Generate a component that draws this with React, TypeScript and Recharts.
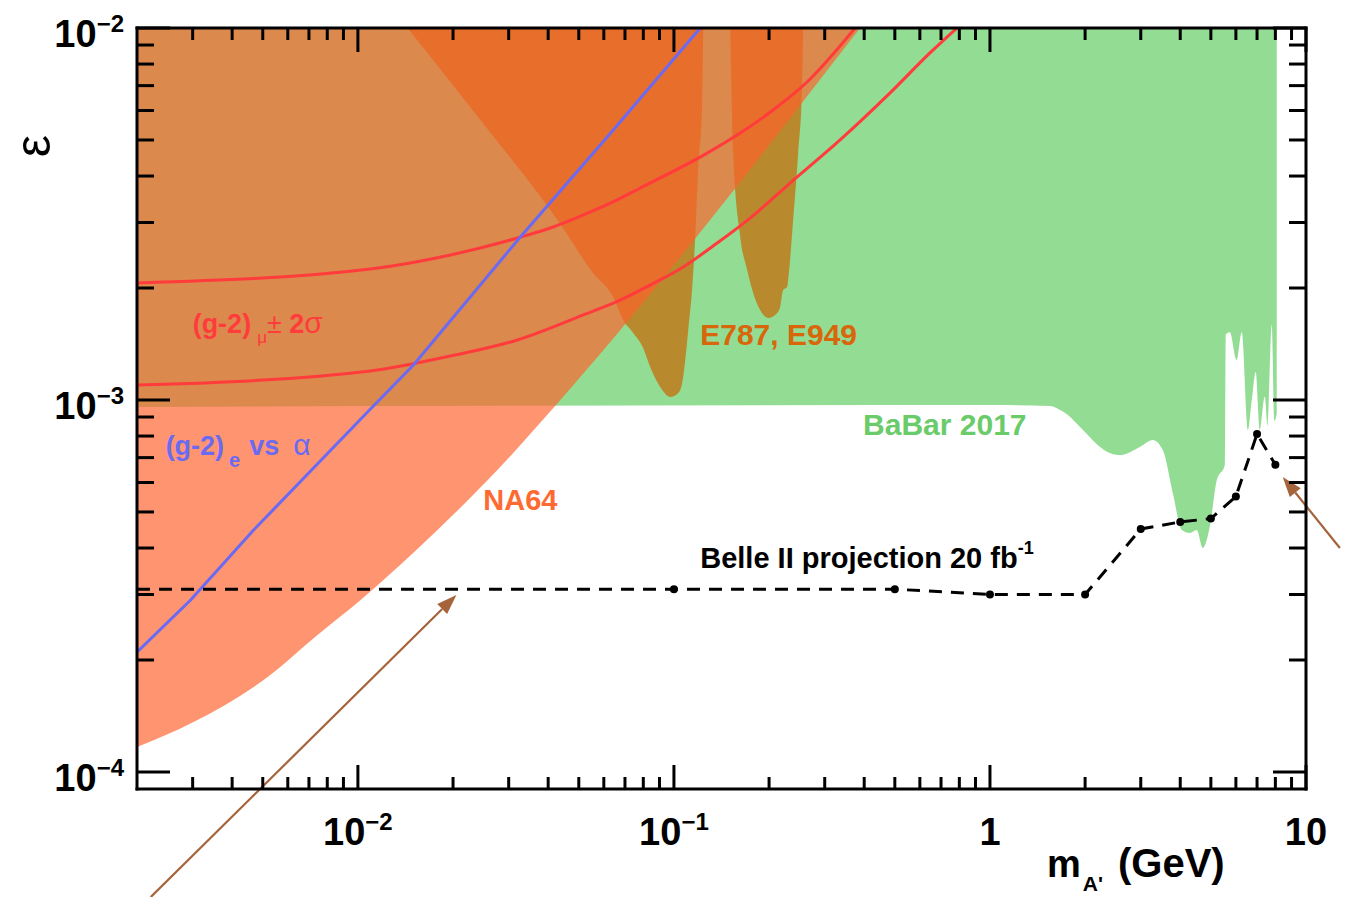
import React from "react";
import {
  ComposedChart,
  XAxis,
  YAxis,
  Area,
  Line,
  ReferenceLine,
  ReferenceDot,
} from "recharts";

const FONT = '"Liberation Sans", Arial, Helvetica, sans-serif';
const X_MIN = 0.002;
const X_MAX = 10;
const Y_MIN = 9e-5;
const Y_MAX = 1e-2;

// BaBar 2017: lower edge of the excluded region (excluded up to the top of the frame)
const babarMass = [0.002, 1.075, 1.548, 1.65, 1.752, 1.88, 2.026, 2.2, 2.395, 2.576, 2.98, 3.276, 3.523, 3.79, 4.046, 4.288, 4.511, 4.714, 4.961, 5.221, 5.533, 5.573, 5.739, 6.038, 6.262, 6.542, 6.735, 6.934, 7.139, 7.404, 7.567, 7.791, 7.962, 8.08];
const babarEps = [9.58e-4, 9.69e-4, 9.63e-4, 9.45e-4, 9.15e-4, 8.65e-4, 8.1e-4, 7.55e-4, 7.2e-4, 7.11e-4, 7.48e-4, 7.81e-4, 7.34e-4, 5.62e-4, 4.47e-4, 4.39e-4, 4.47e-4, 4.0e-4, 4.56e-4, 6.09e-4, 6.69e-4, 1.5e-3, 1.52e-3, 1.28e-3, 1.52e-3, 8.3e-4, 1.0e-3, 1.19e-3, 8.3e-4, 1.02e-3, 8.5e-4, 1.59e-3, 8.8e-4, 9.2e-4];

// E787, E949: two K -> pi A' lobes
const e787Mass = [0.01435, 0.02441, 0.04276, 0.05556, 0.06428, 0.06914, 0.07434, 0.07994, 0.08414, 0.09183, 0.09734, 0.1032, 0.1062, 0.1086, 0.111, 0.1143, 0.1168, 0.1193, 0.1229, 0.1238];
const e787Eps = [1e-2, 5.66e-3, 3.05e-3, 2.19e-3, 1.89e-3, 1.64e-3, 1.514e-3, 1.38e-3, 1.226e-3, 1.064e-3, 1.019e-3, 1.044e-3, 1.111e-3, 1.281e-3, 1.542e-3, 2.012e-3, 2.743e-3, 4.15e-3, 6.29e-3, 1e-2];
const e949Mass = [0.1507, 0.154, 0.1621, 0.1705, 0.1781, 0.1874, 0.1987, 0.2121, 0.2168, 0.2216, 0.2282, 0.2298, 0.2384, 0.2472, 0.2544, 0.2563];
const e949Eps = [1e-2, 4.61e-3, 2.743e-3, 2.236e-3, 1.94e-3, 1.745e-3, 1.661e-3, 1.713e-3, 1.778e-3, 1.975e-3, 2.012e-3, 2.102e-3, 3.05e-3, 4.61e-3, 6.94e-3, 1e-2];

// NA64 lower edge
const na64Mass = [0.002, 0.00302, 0.00518, 0.00745, 0.0102, 0.01785, 0.02762, 0.04153, 0.388];
const na64Eps = [1.168e-4, 1.363e-4, 1.8e-4, 2.335e-4, 2.9e-4, 4.47e-4, 6.48e-4, 9.52e-4, 1e-2];

// (g-2)_e vs alpha
const gm2eMass = [0.002, 0.002956, 0.004677, 0.01096, 0.01499, 0.03266, 0.06428, 0.1211];
const gm2eEps = [2.1e-4, 2.9e-4, 4.47e-4, 9.46e-4, 1.242e-3, 2.743e-3, 5.32e-3, 1e-2];

// (g-2)_mu +- 2 sigma band edges
const gm2muHiMass = [0.002, 0.01096, 0.01963, 0.03196, 0.04063, 0.05167, 0.06618, 0.07823, 0.1274, 0.1621, 0.206, 0.2638, 0.3743];
const gm2muHiEps = [2.063e-3, 2.25e-3, 2.454e-3, 2.726e-3, 2.9e-3, 3.144e-3, 3.45e-3, 3.714e-3, 4.61e-3, 5.22e-3, 6.02e-3, 7.16e-3, 1e-2];
const gm2muLoMass = [0.002, 0.01096, 0.01963, 0.03196, 0.05167, 0.06618, 0.08414, 0.107, 0.137, 0.1742, 0.2331, 0.3356, 0.483, 0.6459, 0.7863];
const gm2muLoEps = [1.097e-3, 1.197e-3, 1.313e-3, 1.45e-3, 1.693e-3, 1.84e-3, 2.037e-3, 2.278e-3, 2.642e-3, 3.084e-3, 3.83e-3, 5.0e-3, 6.69e-3, 8.57e-3, 1e-2];

// Belle II projection, 20 fb^-1
const belleMass = [0.002, 0.1, 0.5, 1, 2, 3, 4, 5, 6, 7, 8];
const belleEps = [3.1e-4, 3.1e-4, 3.1e-4, 3.0e-4, 3.0e-4, 4.5e-4, 4.7e-4, 4.8e-4, 5.5e-4, 8.1e-4, 6.7e-4];

// axis ticks
const mantissas = [1, 2, 3, 4, 5, 6, 7, 8, 9];
const xDecades = [-3, -2, -1, 0, 1];
const yDecades = [-5, -4, -3, -2];

const makeTicks = (decades: number[], lo: number, hi: number) =>
  decades
    .flatMap((d) => mantissas.map((m) => Number((m * Math.pow(10, d)).toPrecision(3))))
    .filter((v) => v > lo * 1.0001 && v <= hi * 1.0001);

const xTicks = makeTicks(xDecades, X_MIN, X_MAX);
const yTicks = makeTicks(yDecades, Y_MIN, Y_MAX);

const lineRows = (mass: number[], eps: number[]) => mass.map((m, i) => ({ m, eps: eps[i] }));
const bandRows = (mass: number[], eps: number[]) =>
  mass.map((m, i) => ({ m, band: [eps[i], Y_MAX] }));

const isMajor = (v: number) => Math.abs(Math.log10(v) - Math.round(Math.log10(v))) < 1e-6;

const PowerLabel = ({ v, x, y, anchor }: { v: number; x: number; y: number; anchor: "middle" | "end" }) => {
  const e = Math.round(Math.log10(v));
  const common = { x, y, textAnchor: anchor, fontFamily: FONT, fontWeight: 700, fontSize: 38, fill: "#000" };
  if (e === 0) return <text {...common}>1</text>;
  if (e === 1) return <text {...common}>10</text>;
  return (
    <text {...common}>
      10
      <tspan dy={-15} fontSize={24}>
        {"\u2212" + Math.abs(e)}
      </tspan>
    </text>
  );
};

const BottomTick = (p: any) => {
  const v = p.payload.value;
  const major = isMajor(v);
  return (
    <g>
      <line x1={p.x} x2={p.x} y1={p.y} y2={p.y - (major ? 24 : 12)} stroke="#000" strokeWidth={3} />
      {major && <PowerLabel v={v} x={p.x} y={p.y + 56} anchor="middle" />}
    </g>
  );
};

const TopTick = (p: any) => {
  const major = isMajor(p.payload.value);
  return <line x1={p.x} x2={p.x} y1={p.y} y2={p.y + (major ? 24 : 12)} stroke="#000" strokeWidth={3} />;
};

const LeftTick = (p: any) => {
  const v = p.payload.value;
  const major = isMajor(v);
  return (
    <g>
      <line x1={p.x} x2={p.x + (major ? 33 : 17)} y1={p.y} y2={p.y} stroke="#000" strokeWidth={3} />
      {major && <PowerLabel v={v} x={p.x - 13} y={p.y + 19} anchor="end" />}
    </g>
  );
};

const RightTick = (p: any) => {
  const major = isMajor(p.payload.value);
  return <line x1={p.x} x2={p.x - (major ? 33 : 17)} y1={p.y} y2={p.y} stroke="#000" strokeWidth={3} />;
};

const Arrow = (p: any) => {
  const { x1, y1, x2, y2 } = p;
  const a = Math.atan2(y2 - y1, x2 - x1);
  const len = 20;
  const half = 7;
  const bx = x2 - len * Math.cos(a);
  const by = y2 - len * Math.sin(a);
  const pts = `${x2},${y2} ${bx + half * Math.sin(a)},${by - half * Math.cos(a)} ${bx - half * Math.sin(a)},${by + half * Math.cos(a)}`;
  return (
    <g>
      <line x1={x1} y1={y1} x2={bx} y2={by} stroke="#A5643C" strokeWidth={2.2} />
      <polygon points={pts} fill="#A5643C" />
    </g>
  );
};

const BelleDot = (p: any) =>
  p.index === 0 ? (
    <g key={`bd${p.index}`} />
  ) : (
    <circle key={`bd${p.index}`} cx={p.cx} cy={p.cy} r={4} fill="#000" />
  );

const textAt = (content: React.ReactNode, color: string, size: number) => (p: any) => (
  <text x={p.cx} y={p.cy} fill={color} fontFamily={FONT} fontWeight={700} fontSize={size}>
    {content}
  </text>
);

const AXES = { xAxisId: "b", yAxisId: "l" } as const;

export default function App() {
  return (
    <div style={{ position: "absolute", left: 0, top: 0, width: 1359, height: 897, background: "#fff" }}>
      <ComposedChart width={1359} height={897} margin={{ top: 0, right: 0, bottom: 0, left: 0 }}>
        <XAxis
          xAxisId="b"
          dataKey="m"
          type="number"
          scale="log"
          domain={[X_MIN, X_MAX]}
          allowDataOverflow
          ticks={xTicks}
          interval={0}
          tickLine={false}
          tickSize={0}
          tickMargin={0}
          height={108}
          tick={BottomTick}
          axisLine={{ stroke: "#000", strokeWidth: 3, strokeLinecap: "square" }}
        />
        <XAxis
          xAxisId="t"
          orientation="top"
          dataKey="m"
          type="number"
          scale="log"
          domain={[X_MIN, X_MAX]}
          allowDataOverflow
          ticks={xTicks}
          interval={0}
          tickLine={false}
          tickSize={0}
          tickMargin={0}
          height={28}
          tick={TopTick}
          axisLine={{ stroke: "#000", strokeWidth: 3, strokeLinecap: "square" }}
        />
        <YAxis
          yAxisId="l"
          type="number"
          scale="log"
          domain={[Y_MIN, Y_MAX]}
          allowDataOverflow
          ticks={yTicks}
          interval={0}
          tickLine={false}
          tickSize={0}
          tickMargin={0}
          width={137}
          tick={LeftTick}
          axisLine={{ stroke: "#000", strokeWidth: 3, strokeLinecap: "square" }}
        />
        <YAxis
          yAxisId="r"
          orientation="right"
          type="number"
          scale="log"
          domain={[Y_MIN, Y_MAX]}
          allowDataOverflow
          ticks={yTicks}
          interval={0}
          tickLine={false}
          tickSize={0}
          tickMargin={0}
          width={53}
          tick={RightTick}
          axisLine={{ stroke: "#000", strokeWidth: 3, strokeLinecap: "square" }}
        />

        <Area {...AXES} data={bandRows(babarMass, babarEps)} dataKey="band" type="monotoneX" stroke="none" fill="#93DC93" fillOpacity={1} dot={false} activeDot={false} isAnimationActive={false} />
        <Area {...AXES} data={bandRows(e787Mass, e787Eps)} dataKey="band" type="monotoneX" stroke="none" fill="#B98A2D" fillOpacity={1} dot={false} activeDot={false} isAnimationActive={false} />
        <Area {...AXES} data={bandRows(e949Mass, e949Eps)} dataKey="band" type="monotoneX" stroke="none" fill="#B98A2D" fillOpacity={1} dot={false} activeDot={false} isAnimationActive={false} />
        <Area {...AXES} data={bandRows(na64Mass, na64Eps)} dataKey="band" type="monotoneX" stroke="none" fill="rgb(255,97,44)" fillOpacity={0.676} dot={false} activeDot={false} isAnimationActive={false} />

        <Line {...AXES} data={lineRows(gm2muHiMass, gm2muHiEps)} dataKey="eps" type="monotoneX" stroke="#FF3B3B" strokeWidth={3} dot={false} activeDot={false} isAnimationActive={false} />
        <Line {...AXES} data={lineRows(gm2muLoMass, gm2muLoEps)} dataKey="eps" type="monotoneX" stroke="#FF3B3B" strokeWidth={3} dot={false} activeDot={false} isAnimationActive={false} />
        <Line {...AXES} data={lineRows(gm2eMass, gm2eEps)} dataKey="eps" type="linear" stroke="#6A6AF2" strokeWidth={3} dot={false} activeDot={false} isAnimationActive={false} />
        <Line {...AXES} data={lineRows(belleMass, belleEps)} dataKey="eps" type="linear" stroke="#000" strokeWidth={3} strokeDasharray="13 9" dot={BelleDot} activeDot={false} isAnimationActive={false} />

        <ReferenceLine {...AXES} segment={[{ x: 0.00221, y: 4.61e-5 }, { x: 0.0205, y: 2.99e-4 }]} ifOverflow="visible" shape={Arrow} />
        <ReferenceLine {...AXES} segment={[{ x: 12.8, y: 4.0e-4 }, { x: 8.44, y: 6.21e-4 }]} ifOverflow="visible" shape={Arrow} />

        <ReferenceDot
          {...AXES}
          x={0.003}
          y={1.514e-3}
          r={0}
          ifOverflow="visible"
          shape={textAt(
            <>
              (g-2)
              <tspan dx={6} dy={10} fontSize={17} fontWeight={400}>
                μ
              </tspan>
              <tspan dy={-10} fontSize={27} fontWeight={400}>
                ±
              </tspan>
              <tspan> 2</tspan>
              <tspan fontWeight={400} fontSize={30}>
                σ
              </tspan>
            </>,
            "#FF3B3B",
            27
          )}
        />
        <ReferenceDot
          {...AXES}
          x={0.002464}
          y={7.11e-4}
          r={0}
          ifOverflow="visible"
          shape={textAt(
            <>
              (g-2)
              <tspan dx={5} dy={12} fontSize={20}>
                e
              </tspan>
              <tspan dx={9} dy={-12}>
                vs
              </tspan>
              <tspan dx={14} fontWeight={400} fontSize={30}>
                α
              </tspan>
            </>,
            "#6A6AF2",
            27
          )}
        />
        <ReferenceDot {...AXES} x={0.02494} y={5.06e-4} r={0} ifOverflow="visible" shape={textAt("NA64", "#FF6A33", 29)} />
        <ReferenceDot {...AXES} x={0.1211} y={1.405e-3} r={0} ifOverflow="visible" shape={textAt("E787, E949", "#D8660A", 30)} />
        <ReferenceDot {...AXES} x={0.3968} y={8.05e-4} r={0} ifOverflow="visible" shape={textAt("BaBar 2017", "#6ACB6A", 30)} />
        <ReferenceDot
          {...AXES}
          x={0.1211}
          y={3.535e-4}
          r={0}
          ifOverflow="visible"
          shape={textAt(
            <>
              Belle II projection 20 fb
              <tspan dy={-14} fontSize={18}>
                -1
              </tspan>
            </>,
            "#000",
            29
          )}
        />
      </ComposedChart>

      <svg
        width={1359}
        height={897}
        style={{ position: "absolute", left: 0, top: 0, pointerEvents: "none" }}
      >
        <text
          x={33}
          y={146}
          transform="rotate(-90 33 146)"
          textAnchor="middle"
          dominantBaseline="central"
          fontFamily={FONT}
          fontSize={50}
          fill="#000"
        >
          ε
        </text>
        <text x={1047} y={877} fontFamily={FONT} fontWeight={700} fontSize={38} fill="#000">
          m
          <tspan dx={2} dy={14} fontSize={21}>
            A'
          </tspan>
          <tspan x={1118} dy={-14} fontSize={40}>
            (GeV)
          </tspan>
        </text>
      </svg>
    </div>
  );
}
